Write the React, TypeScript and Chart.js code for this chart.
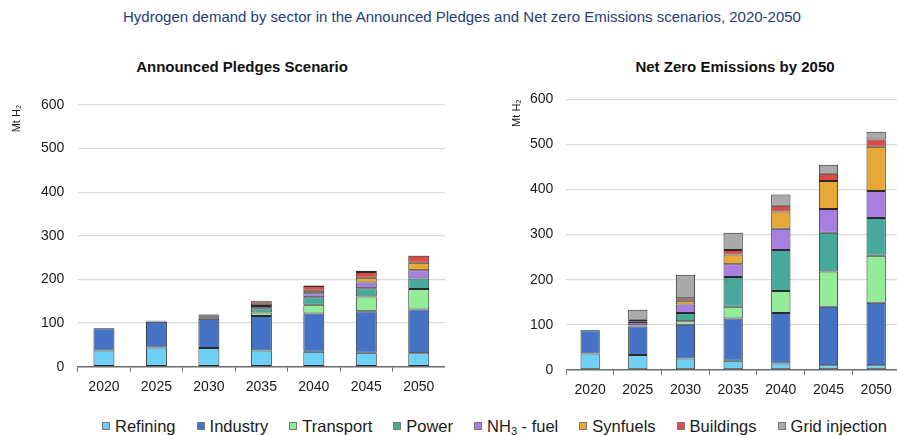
import React, { useEffect, useRef } from "react";
import { Chart, registerables } from "chart.js";

Chart.register(...registerables);

const years = ["2020", "2025", "2030", "2035", "2040", "2045", "2050"];
const yTicks = [0, 100, 200, 300, 400, 500, 600];

const seriesNames = ["Refining", "Industry", "Transport", "Power", "NH3 - fuel", "Synfuels", "Buildings", "Grid injection"];
const seriesColors = ["#6fd0f6", "#4472c4", "#93ec98", "#46a99a", "#a77fe0", "#e8a838", "#dd4a46", "#aaaaaa"];

// Announced Pledges Scenario (Mt H2)
const apsRefining = [37, 44, 43, 37, 34, 32, 31];
const apsIndustry = [51, 59, 67, 79, 88, 95, 100];
const apsTransport = [0, 0.8, 2, 8, 20, 34, 47];
const apsPower = [0, 0.8, 2, 10, 17, 19, 24];
const apsNH3 = [0, 0, 1.5, 5, 9, 13, 19];
const apsSynfuels = [0, 0, 1.5, 5, 6, 11, 17];
const apsBuildings = [0, 0.6, 2, 6, 11, 13, 16];
const apsGrid = [0.5, 0.5, 1, 1, 1, 3, 1];

// Net Zero Emissions by 2050 (Mt H2)
const nzeRefining = [36, 33, 25, 20, 14, 10, 10];
const nzeIndustry = [52, 63, 75, 94, 112, 130, 139];
const nzeTransport = [0, 1.5, 8, 26, 49, 78, 104];
const nzePower = [0, 1.5, 18, 66, 91, 86, 84];
const nzeNH3 = [0, 7, 19, 28, 47, 53, 60];
const nzeSynfuels = [0, 2, 8, 22, 38, 62, 98];
const nzeBuildings = [0, 3, 6, 10, 13, 16, 16];
const nzeGrid = [1, 22, 52, 38, 25, 20, 17];

const apsSeries = [apsRefining, apsIndustry, apsTransport, apsPower, apsNH3, apsSynfuels, apsBuildings, apsGrid];
const nzeSeries = [nzeRefining, nzeIndustry, nzeTransport, nzePower, nzeNH3, nzeSynfuels, nzeBuildings, nzeGrid];

const FONT = '"Liberation Sans", Arial, Helvetica, sans-serif';

type Cfg = {
  series: number[][];
  yAxisWidth: number;
  yTickPad: number;
  titlePad: number;
  padTop: number;
  padBottom: number;
  catPct: number;
};

function StackChart({ cfg, style }: { cfg: Cfg; style: React.CSSProperties }) {
  const ref = useRef<HTMLCanvasElement | null>(null);
  useEffect(() => {
    if (!ref.current) return;
    const chart = new Chart(ref.current, {
      type: "bar",
      data: {
        labels: years,
        datasets: cfg.series.map((vals, i) => ({
          label: seriesNames[i],
          data: vals,
          backgroundColor: seriesColors[i],
          borderColor: "#2a2a2a",
          borderWidth: 1,
          borderSkipped: false,
          categoryPercentage: cfg.catPct,
          barPercentage: 1,
        })),
      },
      options: {
        animation: false,
        responsive: true,
        maintainAspectRatio: false,
        layout: { padding: { top: cfg.padTop, bottom: cfg.padBottom, left: 0, right: 0 } },
        plugins: { legend: { display: false }, tooltip: { enabled: false }, title: { display: false } },
        scales: {
          x: {
            stacked: true,
            grid: { display: true, offset: true, drawOnChartArea: false, drawTicks: true, tickLength: 5, color: "#6a6a6a" },
            border: { display: true, color: "#6a6a6a", width: 1.5 },
            ticks: { color: "#1a1a1a", font: { family: FONT, size: 14 }, padding: 7, maxRotation: 0 },
            afterFit: (s: any) => {
              s.height = 30;
            },
          },
          y: {
            stacked: true,
            min: 0,
            max: 600,
            afterBuildTicks: (s: any) => {
              s.ticks = yTicks.map((v) => ({ value: v }));
            },
            grid: {
              drawTicks: false,
              color: (c: any) => (c.tick && c.tick.value === 0 ? "rgba(0,0,0,0)" : "#dcdcdc"),
              lineWidth: 1.2,
            },
            border: { display: false },
            ticks: { color: "#1a1a1a", font: { family: FONT, size: 14 }, padding: cfg.yTickPad },
            title: {
              display: true,
              text: "Mt H₂",
              align: "end",
              color: "#1a1a1a",
              font: { family: FONT, size: 11 },
              padding: { top: cfg.titlePad, bottom: 0 },
            },
            afterFit: (s: any) => {
              s.width = cfg.yAxisWidth;
            },
          },
        },
      },
    });
    return () => chart.destroy();
  }, []);
  return (
    <div style={{ position: "absolute", ...style }}>
      <canvas ref={ref} />
    </div>
  );
}

function LegendItem({ i }: { i: number }) {
  const name = seriesNames[i];
  return (
    <div style={{ display: "flex", alignItems: "center" }}>
      <span
        style={{
          display: "inline-block",
          width: 6,
          height: 6,
          background: seriesColors[i],
          border: "1px solid #777",
          marginRight: 5,
        }}
      />
      <span>
        {name === "NH3 - fuel" ? (
          <>
            NH<sub style={{ fontSize: 11, verticalAlign: "-3px", lineHeight: 0 }}>3</sub> - fuel
          </>
        ) : (
          name
        )}
      </span>
    </div>
  );
}

export default function App() {
  const aps: Cfg = { series: apsSeries, yAxisWidth: 77.7, yTickPad: 13.4, titlePad: 10.4, padTop: 0, padBottom: 3.3, catPct: 0.4 };
  const nze: Cfg = { series: nzeSeries, yAxisWidth: 86.3, yTickPad: 13, titlePad: 30.4, padTop: 0, padBottom: 3.2, catPct: 0.405 };
  const sub: React.CSSProperties = {
    position: "absolute",
    width: 300,
    top: 58,
    textAlign: "center",
    fontWeight: "bold",
    fontSize: 15,
    lineHeight: "18px",
    color: "#111",
    whiteSpace: "nowrap",
  };
  return (
    <div
      style={{
        position: "fixed",
        left: 0,
        top: 0,
        width: 897,
        height: 435,
        overflow: "hidden",
        background: "#fff",
        fontFamily: FONT,
      }}
    >
      <div
        style={{
          position: "absolute",
          left: 0,
          width: 924,
          top: 8,
          textAlign: "center",
          fontSize: 15,
          lineHeight: "18px",
          color: "#1f3d7a",
          whiteSpace: "nowrap",
        }}
      >
        Hydrogen demand by sector in the Announced Pledges and Net zero Emissions scenarios, 2020-2050
      </div>
      <div style={{ ...sub, left: 92 }}>Announced Pledges Scenario</div>
      <div style={{ ...sub, left: 585 }}>Net Zero Emissions by 2050</div>
      <StackChart cfg={aps} style={{ left: 0, top: 83, width: 445, height: 317 }} />
      <StackChart cfg={nze} style={{ left: 480, top: 77.5, width: 420, height: 325 }} />
      <div
        style={{
          position: "absolute",
          left: 102,
          top: 417,
          display: "flex",
          gap: 21,
          fontSize: 16.5,
          lineHeight: "18px",
          color: "#1a1a1a",
          whiteSpace: "nowrap",
        }}
      >
        {seriesNames.map((_, i) => (
          <LegendItem key={i} i={i} />
        ))}
      </div>
    </div>
  );
}
